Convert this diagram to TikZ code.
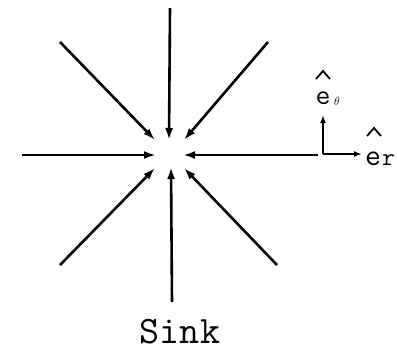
\documentclass[tikz,border=0pt]{standalone}
\usepackage{fontspec}
\usetikzlibrary{arrows.meta}
\begin{document}
\begin{tikzpicture}[x=1bp,y=-1bp,
  flow/.style={line width=2.6bp,-{Latex[length=12bp,width=8bp]}},
  unitv/.style={line width=2.6bp,-{Latex[length=8bp,width=6bp]}},
  hatline/.style={line width=1.8bp},
  lbl/.style={inner sep=0pt,font=\ttfamily}]
\useasboundingbox (0,0) rectangle (397,352);
% inflow start points
\coordinate (sN) at (170,8);
\coordinate (sS) at (172,302);
\coordinate (sW) at (22,155);
\coordinate (sE) at (318,155);
\coordinate (sNW) at (60,42);
\coordinate (sNE) at (268,42);
\coordinate (sSW) at (60,265);
\coordinate (sSE) at (277,265);
% arrow tips near the sink
\coordinate (tN) at (169,140);
\coordinate (tS) at (171,167);
\coordinate (tW) at (156,155);
\coordinate (tE) at (183,155);
\coordinate (tNW) at (155,140);
\coordinate (tNE) at (184,140);
\coordinate (tSW) at (155,168);
\coordinate (tSE) at (184,168);
\foreach \d in {N,S,W,E,NW,NE,SW,SE}{\draw[flow] (s\d) -- (t\d);}
% unit vectors
\coordinate (o) at (323,154);
\coordinate (etip) at (362,154);
\coordinate (ttip) at (323,115);
\draw[unitv] (o) -- (etip);
\draw[unitv] (o) -- (ttip);
\node[lbl,font=\ttfamily\fontsize{31}{31}\selectfont,anchor=base] (er) at (373,165) {e};
\node[lbl,font=\ttfamily\fontsize{25}{25}\selectfont,anchor=base west] (erS) at (382,165) {r};
\draw[hatline] (367,136) -- (374,128) -- (381,136);
\node[lbl,font=\ttfamily\fontsize{29}{29}\selectfont,anchor=base] (et) at (323,104) {e};
\node[lbl,font=\fontsize{12}{12}\selectfont,anchor=base west] (etS) at (334,105) {$\theta$};
\draw[hatline] (316,79) -- (323,71) -- (330,79);
\node[lbl,font=\ttfamily\fontsize{39}{39}\selectfont,anchor=base] (sink) at (180,343) {Sink};
\end{tikzpicture}
\end{document}
